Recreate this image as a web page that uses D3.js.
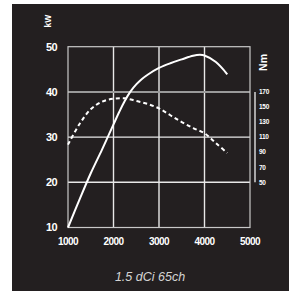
<!DOCTYPE html>
<html><head><meta charset="utf-8">
<script src="https://cdn.jsdelivr.net/npm/d3@7/dist/d3.min.js"></script>
<style>html,body{margin:0;padding:0;background:#fff;}svg{display:block;}</style>
</head><body>
<svg id="c" width="289" height="291"></svg>
<script>
const rpmTicks = [1000, 2000, 3000, 4000, 5000];
const kwTicks = [10, 20, 30, 40, 50];
const nmTicks = [170, 150, 130, 110, 90, 70, 50];
const rpm = [1000, 1250, 1500, 1750, 2000, 2125, 2250, 2375, 2500, 2625, 2750, 3000, 3250, 3500, 3750, 3900, 4000, 4250, 4500];
const powerKw = [10, 16.1, 22, 27.3, 32.8, 35.55, 38.05, 40.1, 41.65, 42.85, 43.8, 45.3, 46.35, 47.2, 48, 48.2, 48.05, 46.6, 43.9];
const rpmT = [1000, 1250, 1500, 1750, 2000, 2250, 2500, 2750, 3000, 3250, 3500, 3750, 4000, 4250, 4500];
const torqueNm = [100, 127, 147, 157, 161, 161.5, 158, 154, 148, 139, 130, 122, 115, 102, 89];
const title = "1.5 dCi 65ch";

const svg = d3.select("#c");
svg.append("rect").attr("x", 12).attr("y", 4).attr("width", 277).attr("height", 287).attr("fill", "#231f20");

const x = d3.scaleLinear().domain([1000, 5000]).range([68, 250]);
const y = d3.scaleLinear().domain([10, 50]).range([227.5, 46.7]);
const yNm = d3.scaleLinear().domain([50, 170]).range([y(20), y(40)]);

const font = "'Liberation Sans', Arial, Helvetica, sans-serif";

// grid
const g = svg.append("g");
g.selectAll(".vg").data(rpmTicks.slice(1, 4)).join("line")
  .attr("x1", d => x(d)).attr("x2", d => x(d)).attr("y1", y(50)).attr("y2", y(10))
  .attr("stroke", "#e8e8e8").attr("stroke-width", 1.4);
g.selectAll(".hg").data([20, 30]).join("line")
  .attr("x1", x(1000)).attr("x2", x(5000)).attr("y1", d => y(d)).attr("y2", d => y(d))
  .attr("stroke", "#e8e8e8").attr("stroke-width", 1.4);
g.append("line").attr("x1", x(1000)).attr("x2", x(5000)).attr("y1", y(40)).attr("y2", y(40))
  .attr("stroke", "#9a9a9a").attr("stroke-width", 2);
// frame
g.append("rect").attr("x", x(1000)).attr("y", y(50)).attr("width", x(5000) - x(1000)).attr("height", y(10) - y(50))
  .attr("fill", "none").attr("stroke", "#c8c8c8").attr("stroke-width", 1.2);

// left axis labels
svg.append("g").selectAll("text").data(kwTicks).join("text")
  .attr("x", 57).attr("y", d => y(d)).attr("dy", "0.35em").attr("text-anchor", "end")
  .attr("fill", "#fff").attr("font-family", font).attr("font-weight", "bold")
  .attr("font-size", 11).attr("letter-spacing", -0.6).text(d => d);

// bottom axis labels
svg.append("g").selectAll("text").data(rpmTicks).join("text")
  .attr("x", d => x(d)).attr("y", 241).attr("dy", "0.35em").attr("text-anchor", "middle")
  .attr("fill", "#fff").attr("font-family", font).attr("font-weight", "bold")
  .attr("font-size", 10).attr("letter-spacing", -0.5).text(d => d);

// right Nm axis
svg.append("line").attr("x1", 255).attr("x2", 255).attr("y1", yNm(170)).attr("y2", yNm(50))
  .attr("stroke", "#f0f0f0").attr("stroke-width", 1.3);
svg.append("g").selectAll("text").data(nmTicks).join("text")
  .attr("x", 259).attr("y", d => yNm(d)).attr("dy", "0.35em")
  .attr("fill", "#fff").attr("font-family", font).attr("font-weight", "bold")
  .attr("font-size", 6.5).attr("letter-spacing", -0.3).text(d => d);

// unit labels
svg.append("text").attr("transform", "translate(51,21) rotate(-90)").attr("text-anchor", "middle")
  .attr("fill", "#fff").attr("font-family", font).attr("font-weight", "bold").attr("font-size", 8.5).text("kW");
svg.append("text").attr("transform", "translate(267,62.5) rotate(-90)").attr("text-anchor", "middle")
  .attr("fill", "#fff").attr("font-family", font).attr("font-weight", "bold").attr("font-size", 10.5).text("Nm");

// curves
const pLine = d3.line().x((d, i) => x(rpm[i])).y(d => y(d)).curve(d3.curveCatmullRom.alpha(0.5));
svg.append("path").attr("d", pLine(powerKw)).attr("fill", "none").attr("stroke", "#fff").attr("stroke-width", 2);
const tLine = d3.line().x((d, i) => x(rpmT[i])).y(d => yNm(d)).curve(d3.curveCatmullRom.alpha(0.5));
svg.append("path").attr("d", tLine(torqueNm)).attr("fill", "none").attr("stroke", "#fff")
  .attr("stroke-width", 2).attr("stroke-dasharray", "4,3");

// title
svg.append("text").attr("x", 150).attr("y", 277).attr("dy", "0.35em").attr("text-anchor", "middle")
  .attr("fill", "#d4d4d4").attr("font-family", font).attr("font-style", "italic")
  .attr("font-size", 12.5).text(title);
</script>
</body></html>
